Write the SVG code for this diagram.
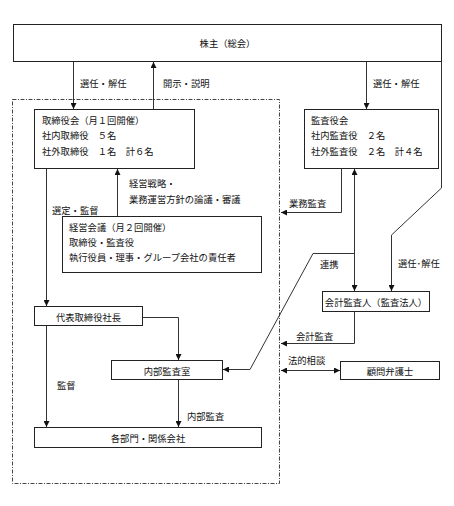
<svg xmlns="http://www.w3.org/2000/svg" width="454" height="506" viewBox="0 0 454 506">
<style>
text{font-family:"Noto Sans CJK JP","Noto Sans",sans-serif;font-size:9.3px;fill:#111;dominant-baseline:central}
.c{text-anchor:middle}
.box{fill:#fff;stroke:#222;stroke-width:1}
.ln{fill:none;stroke:#333;stroke-width:1}
.frame{fill:none;stroke:#444;stroke-width:1;stroke-dasharray:4 1.5 1 1.5}
</style>
<defs>
<marker id="ah" viewBox="0 0 6 6" refX="6" refY="3" markerWidth="6" markerHeight="6" markerUnits="userSpaceOnUse" orient="auto-start-reverse">
<path d="M0,0 L6,3 L0,6 z" fill="#111"/>
</marker>
</defs>
<rect width="454" height="506" fill="#fff"/>
<rect class="frame" x="12.5" y="99.5" width="267" height="384"/>

<g id="connectors">
<line class="ln" x1="73.5" y1="62" x2="73.5" y2="109" marker-end="url(#ah)"/>
<line class="ln" x1="153.5" y1="109" x2="153.5" y2="62" marker-end="url(#ah)"/>
<line class="ln" x1="366.5" y1="62" x2="366.5" y2="109" marker-end="url(#ah)"/>
<polyline class="ln" points="441.5,62 441.5,188 391.5,235 391.5,291" marker-end="url(#ah)"/>
<line class="ln" x1="46.5" y1="169" x2="46.5" y2="306" marker-end="url(#ah)"/>
<line class="ln" x1="117.5" y1="216" x2="117.5" y2="169" marker-end="url(#ah)"/>
<polyline class="ln" points="341.5,169 341.5,212.5 281,212.5" marker-end="url(#ah)"/>
<line class="ln" x1="354.5" y1="169" x2="354.5" y2="291" marker-start="url(#ah)" marker-end="url(#ah)"/>
<polyline class="ln" points="354.5,253.5 313,253.5 250,369.5 223,369.5" marker-end="url(#ah)"/>
<polyline class="ln" points="354.5,312 354.5,343.5 281,343.5" marker-end="url(#ah)"/>
<line class="ln" x1="281" y1="370.5" x2="340" y2="370.5" marker-start="url(#ah)" marker-end="url(#ah)"/>
<polyline class="ln" points="143,317.5 178.5,317.5 178.5,360" marker-end="url(#ah)"/>
<line class="ln" x1="46.5" y1="326" x2="46.5" y2="427" marker-end="url(#ah)"/>
<line class="ln" x1="178.5" y1="380" x2="178.5" y2="427" marker-end="url(#ah)"/>
<text x="80" y="83">選任・解任</text>
<text x="163" y="83">開示・説明</text>
<text x="373" y="83">選任・解任</text>
<text x="129" y="183">経営戦略・</text>
<text x="129" y="199">業務運営方針の論議・審議</text>
<text x="52" y="210">選定・監督</text>
<text x="289" y="203">業務監査</text>
<text x="320" y="264">連携</text>
<text x="398" y="263">選任･解任</text>
<text x="296" y="336">会計監査</text>
<text x="288" y="360">法的相談</text>
<text x="57" y="385">監督</text>
<text x="187" y="416">内部監査</text>
</g>

<g id="shareholders">
<rect class="box" x="13.5" y="24.5" width="428" height="37"/>
<text class="c" x="227.5" y="43">株主（総会）</text>
</g>
<g id="board">
<rect class="box" x="34.5" y="109.5" width="160" height="59"/>
<text x="42" y="119.5">取締役会（月１回開催）</text>
<text x="42" y="135">社内取締役　５名</text>
<text x="42" y="150.5">社外取締役　１名　計６名</text>
</g>
<g id="auditors">
<rect class="box" x="304.5" y="109.5" width="134" height="59"/>
<text x="311" y="119.5">監査役会</text>
<text x="311" y="135">社内監査役　２名</text>
<text x="311" y="150.5">社外監査役　２名　計４名</text>
</g>
<g id="management">
<rect class="box" x="62.5" y="216.5" width="199" height="56"/>
<text x="69" y="227">経営会議（月２回開催）</text>
<text x="69" y="242">取締役・監査役</text>
<text x="69" y="257">執行役員・理事・グループ会社の責任者</text>
</g>
<g id="president">
<rect class="box" x="34.5" y="306.5" width="108" height="19"/>
<text class="c" x="88.5" y="316.5">代表取締役社長</text>
</g>
<g id="internal-audit">
<rect class="box" x="111.5" y="360.5" width="111" height="19"/>
<text class="c" x="167" y="370.5">内部監査室</text>
</g>
<g id="departments">
<rect class="box" x="34.5" y="427.5" width="227" height="20"/>
<text class="c" x="148" y="437.5">各部門・関係会社</text>
</g>
<g id="accounting-auditor">
<rect class="box" x="322.5" y="291.5" width="107" height="20"/>
<text class="c" x="376" y="301.5">会計監査人（監査法人）</text>
</g>
<g id="lawyer">
<rect class="box" x="340.5" y="361.5" width="99" height="18"/>
<text class="c" x="390" y="370.5">顧問弁護士</text>
</g>
</svg>
